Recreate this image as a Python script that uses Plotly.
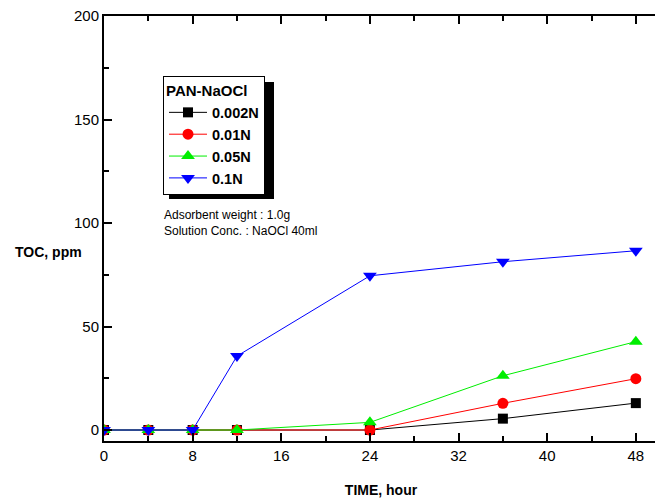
import plotly.graph_objects as go

time_h = [0, 4, 8, 12, 24, 36, 48]
toc_0002 = [0, 0, 0, 0, 0, 5.5, 13.0]
toc_001 = [0, 0, 0, 0, 0, 12.9, 24.8]
toc_005 = [0, 0, 0, 0, 3.7, 26.2, 42.7]
toc_01 = [0, 0, 0, 35.7, 74.5, 81.3, 86.6]

series = [
    ("0.002N", toc_0002, "black", "square", 10),
    ("0.01N", toc_001, "red", "circle", 11),
    ("0.05N", toc_005, "#00ee00", "triangle-up", 12),
    ("0.1N", toc_01, "blue", "triangle-down", 12),
]

fig = go.Figure()
for name, ys, col, sym, sz in series:
    fig.add_trace(go.Scatter(
        x=time_h, y=ys, name="<b>" + name + "</b>", mode="lines+markers",
        line=dict(color=col, width=1),
        marker=dict(color=col, symbol=sym, size=sz, line=dict(width=0)),
    ))

xr = [0, 50]
yr = [-5.3, 200]
font_family = "Liberation Sans, Arial, sans-serif"
W = 658  # figure slightly wider than the window: right frame edge is cropped, as in the reference
PW = W - 104

fig.update_layout(
    width=W, height=502,
    margin=dict(l=104, r=0, t=16, b=61, autoexpand=False),
    plot_bgcolor="white", paper_bgcolor="white",
    font=dict(family=font_family, color="black", size=14),
    showlegend=True,
    legend=dict(
        title=dict(text="<b>PAN-NaOCl</b>", font=dict(size=15)),
        font=dict(size=14.5, family=font_family),
        x=(163 - 104) / PW, y=0.859, xanchor="left", yanchor="top",
        bgcolor="white", bordercolor="black", borderwidth=1,
        tracegroupgap=0, itemwidth=38,
    ),
    xaxis=dict(
        range=xr, tickvals=[0, 8, 16, 24, 32, 40, 48], automargin=False,
        showline=True, linecolor="black", linewidth=2, mirror="ticks",
        ticks="inside", ticklen=8, tickwidth=2, tickcolor="black",
        minor=dict(tickvals=[4, 12, 20, 28, 36, 44], ticks="inside", ticklen=5, tickwidth=2, tickcolor="black"),
        showgrid=False, zeroline=False,
        tickfont=dict(size=15),
        title=dict(text="<b>TIME, hour</b>", font=dict(size=14), standoff=22),
    ),
    yaxis=dict(
        range=yr, tickvals=[0, 50, 100, 150, 200], automargin=False,
        showline=True, linecolor="black", linewidth=2,
        ticks="inside", ticklen=8, tickwidth=2, tickcolor="black",
        minor=dict(tickvals=[25, 75, 125, 175], ticks="inside", ticklen=5, tickwidth=2, tickcolor="black"),
        showgrid=False, zeroline=False, mirror=False,
        tickfont=dict(size=15),
        title=None,
    ),
    shapes=[
        dict(type="rect", xref="paper", yref="paper",
             x0=(169 - 104) / PW, x1=(274 - 104) / PW, y0=(441 - 199) / 425, y1=(441 - 82) / 425,
             fillcolor="black", line=dict(width=0), layer="above"),
    ],
    annotations=[
        dict(text="<b>TOC, ppm</b>", xref="paper", yref="paper", x=(13 - 104) / PW, y=0.445,
             xanchor="left", yanchor="middle", showarrow=False, font=dict(size=14)),
        dict(text="Adsorbent weight : 1.0g<br>Solution Conc. : NaOCl 40ml",
             xref="paper", yref="paper", x=(162 - 104) / PW, y=0.553, xanchor="left", yanchor="top",
             align="left", showarrow=False, font=dict(size=12)),
    ],
)

fig.write_html("out.html", config={"displayModeBar": False},
               post_script="document.body.style.margin='0';document.body.style.overflow='hidden';")
